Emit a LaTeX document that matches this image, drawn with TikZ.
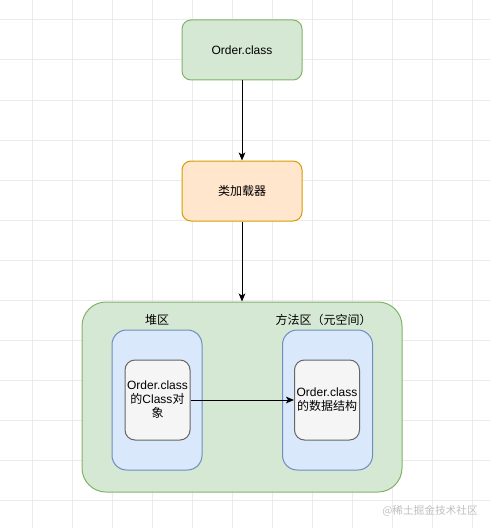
\documentclass[tikz,border=0pt]{standalone}
\usepackage{fontspec}
\setmainfont{Liberation Sans}
\newfontfamily\cjk{Noto Sans CJK SC}
\usetikzlibrary{arrows.meta,positioning}
\definecolor{greenfill}{HTML}{D5E8D4}
\definecolor{greenline}{HTML}{82B366}
\definecolor{orangefill}{HTML}{FFE6CC}
\definecolor{orangeline}{HTML}{D79B00}
\definecolor{bluefill}{HTML}{DAE8FC}
\definecolor{blueline}{HTML}{6C8EBF}
\definecolor{greyfill}{HTML}{F5F5F5}
\definecolor{greyline}{HTML}{666666}
\definecolor{gridgrey}{HTML}{EBEBEB}
\tikzset{
  boxfont/.style={font=\fontsize{9}{10.5}\selectfont},
  classblock/.style={draw=greenline, fill=greenfill, rounded corners=6.75pt, line width=0.75pt, boxfont, minimum width=90pt, minimum height=45pt, align=center},
  loaderblock/.style={classblock, draw=orangeline, fill=orangefill},
  areablock/.style={draw=greenline, fill=greenfill, rounded corners=18pt, line width=0.75pt, minimum width=240pt, minimum height=142.5pt},
  memblock/.style={draw=blueline, fill=bluefill, rounded corners=11pt, line width=0.75pt, minimum width=67.5pt, minimum height=105pt},
  itemblock/.style={draw=greyline, fill=greyfill, rounded corners=7.5pt, line width=0.75pt, boxfont, minimum width=48.75pt, minimum height=60pt, align=center, inner sep=1pt},
  arealabel/.style={boxfont, inner sep=0pt},
  gridline/.style={draw=gridgrey, line width=0.75pt},
  arrow/.style={-{Stealth[length=6pt, width=5pt, inset=1.5pt]}, line width=0.75pt}
}
\begin{document}
\begin{tikzpicture}[x=0.75pt, y=-0.75pt, node distance=60pt]
    \useasboundingbox (0,0) rectangle (490,528);
    % background grid
    \foreach \gx in {32.5,72.5,...,472.5}
      \draw[gridline] (\gx,0) -- (\gx,528);
    \foreach \gy in {20,60,...,500}
      \draw[gridline] (0,\gy) -- (490,\gy);

    \node[classblock] (order) at (242,50) {Order.class};
    \node[loaderblock, below=of order] (loader) {\cjk 类加载器};
    \node[areablock, below=of loader] (jvm) {};

    \node[memblock] (heap) at (157,400) {};
    \node[memblock] (method) at (327.5,400) {};
    \node[arealabel, above=2.5pt of heap] (heaplabel) {\cjk 堆区};
    \node[arealabel, above=2.5pt of method, xshift=-3pt] (methodlabel) {\cjk 方法区（元空间）};

    \node[itemblock] (classobj) at (157.5,400) {Order.class\\{\cjk 的}Class{\cjk 对}\\{\cjk 象}};
    \node[itemblock] (classdata) at (327,400) {Order.class\\{\cjk 的数据结构}};

    \draw[arrow] (order) -- (loader);
    \draw[arrow] (loader) -- (jvm);
    \draw[arrow] (classobj) -- (classdata);

    \node[font=\fontsize{8}{9}\selectfont\cjk, text=black!25] (mark) at (430,511) {@稀土掘金技术社区};
  \end{tikzpicture}
\end{document}
